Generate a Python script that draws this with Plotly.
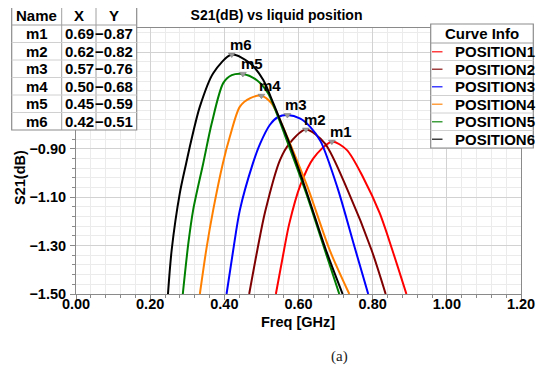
import plotly.graph_objects as go

# ---- data ----
series_names = ["POSITION1", "POSITION2", "POSITION3", "POSITION4", "POSITION5", "POSITION6"]
series_colors = ["#FF0000", "#7F0000", "#0000FF", "#FF8000", "#008000", "#000000"]

x1 = [0.539, 0.561, 0.575, 0.605, 0.640, 0.69, 0.730, 0.775, 0.819, 0.853, 0.891]
y1 = [-1.50, -1.318, -1.21, -1.05, -0.939, -0.87, -0.904, -1.02, -1.166, -1.318, -1.50]

x2 = [0.467, 0.489, 0.510, 0.550, 0.577, 0.62, 0.671, 0.735, 0.797, 0.835]
y2 = [-1.50, -1.318, -1.16, -0.946, -0.875, -0.82, -0.877, -1.08, -1.318, -1.50]

x3 = [0.406, 0.424, 0.442, 0.477, 0.496, 0.523, 0.545, 0.57, 0.605, 0.631, 0.66, 0.705, 0.752, 0.788]
y3 = [-1.50, -1.318, -1.152, -0.96, -0.88, -0.80, -0.768, -0.76, -0.775, -0.808, -0.87, -1.06, -1.31, -1.50]

x4 = [0.334, 0.352, 0.370, 0.396, 0.415, 0.442, 0.47, 0.50, 0.527, 0.550, 0.575, 0.625, 0.684, 0.737]
y4 = [-1.50, -1.31, -1.152, -0.96, -0.849, -0.725, -0.69, -0.68, -0.711, -0.78, -0.87, -1.06, -1.318, -1.50]

x5 = [0.288, 0.303, 0.316, 0.343, 0.366, 0.397, 0.42, 0.45, 0.487, 0.518, 0.541, 0.565, 0.62, 0.671, 0.710]
y5 = [-1.50, -1.29, -1.152, -0.96, -0.794, -0.628, -0.595, -0.59, -0.615, -0.67, -0.752, -0.85, -1.08, -1.318, -1.50]

x6 = [0.248, 0.258, 0.280, 0.297, 0.310, 0.334, 0.370, 0.42, 0.469, 0.505, 0.532, 0.554, 0.572, 0.62, 0.674, 0.719]
y6 = [-1.50, -1.318, -1.083, -0.96, -0.87, -0.725, -0.587, -0.51, -0.545, -0.615, -0.711, -0.794, -0.863, -1.07, -1.318, -1.50]

marker_names = ["m1", "m2", "m3", "m4", "m5", "m6"]
marker_x = [0.69, 0.62, 0.57, 0.50, 0.45, 0.42]
marker_y = [-0.87, -0.82, -0.76, -0.68, -0.59, -0.51]

x_ticks = [0.0, 0.2, 0.4, 0.6, 0.8, 1.0, 1.2]
y_ticks = [-1.5, -1.3, -1.1, -0.9, -0.7, -0.5]

series_x = [x1, x2, x3, x4, x5, x6]
series_y = [y1, y2, y3, y4, y5, y6]

# ---- layout geometry (reference-window pixels; page body adds an 8px offset) ----
OFF = 8
WIN_W, WIN_H = 550, 371
PL, PR, PT, PB = 76, 521, 28, 294          # plot area edges in window pixels
W, H = WIN_W - OFF, WIN_H - OFF
L, T = PL - OFF, PT - OFF
R, B = W - (PR - OFF), H - (PB - OFF)
PW, PH = PR - PL, PB - PT
FONT = "Liberation Sans"


def px(xp):
    return (xp - PL) / PW


def py(yp):
    return (PB - yp) / PH


fig = go.Figure()

for name, col, xs, ys in zip(series_names, series_colors, series_x, series_y):
    fig.add_trace(go.Scatter(x=xs, y=ys, mode="lines", name=name,
                             line=dict(color=col, width=2, shape="spline", smoothing=0.8),
                             showlegend=False, hoverinfo="skip"))

fig.add_trace(go.Scatter(x=marker_x, y=marker_y, mode="markers",
                         marker=dict(symbol="triangle-down", size=6, color="#9A9A9A",
                                     line=dict(color="#707070", width=0.5)),
                         showlegend=False, hoverinfo="skip"))

annotations = []
shapes = []

bold15 = dict(family=FONT, size=15, color="black", weight="bold")

# marker labels
for n, mx, my in zip(marker_names, marker_x, marker_y):
    annotations.append(dict(x=mx, y=my, xref="x", yref="y", text=n, showarrow=False,
                            xanchor="left", yanchor="bottom", xshift=-4, yshift=0, font=bold15))

# ---- marker table (top-left) ----
tl, tr, tt, tb = 11.7, 136.7, 7, 130
col_lines = [61.7, 96]
head_b = 25
row_h = (tb - head_b) / len(marker_names)
shapes.append(dict(type="rect", xref="paper", yref="paper", x0=px(tl), x1=px(tr), y0=py(tb), y1=py(tt),
                   fillcolor="white", line=dict(color="#8C8C8C", width=1.2), layer="above"))
for c in col_lines:
    shapes.append(dict(type="line", xref="paper", yref="paper", x0=px(c), x1=px(c), y0=py(tb), y1=py(tt),
                       line=dict(color="#A0A0A0", width=1), layer="above"))
for i in range(len(marker_names)):
    yl = head_b + i * row_h
    shapes.append(dict(type="line", xref="paper", yref="paper", x0=px(tl), x1=px(tr), y0=py(yl), y1=py(yl),
                       line=dict(color="#D0D0D0" if i > 0 else "#A0A0A0", width=1), layer="above"))

for txt, cx in zip(["Name", "X", "Y"], [36.7, 79, 114]):
    annotations.append(dict(x=px(cx), y=py(16), xref="paper", yref="paper", text=txt, showarrow=False,
                            xanchor="center", yanchor="middle", font=bold15))
for i, (n, mx, my) in enumerate(zip(marker_names, marker_x, marker_y)):
    cy = head_b + (i + 0.5) * row_h
    annotations.append(dict(x=px(36.7), y=py(cy), xref="paper", yref="paper", text=n, showarrow=False,
                            xanchor="center", yanchor="middle", font=bold15))
    annotations.append(dict(x=px(79), y=py(cy), xref="paper", yref="paper", text=f"{mx:.2f}", showarrow=False,
                            xanchor="center", yanchor="middle", font=bold15))
    annotations.append(dict(x=px(135), y=py(cy), xref="paper", yref="paper",
                            text=f"\u2212{abs(my):.2f}", showarrow=False,
                            xanchor="right", yanchor="middle", font=bold15))

# ---- curve info legend (top-right) ----
ll, lr, lt, lb = 430.7, 533.3, 24, 148
lhead = 43
lrow = (lb - lhead) / len(series_names)
shapes.append(dict(type="rect", xref="paper", yref="paper", x0=px(ll), x1=px(lr), y0=py(lb), y1=py(lt),
                   fillcolor="white", line=dict(color="#8C8C8C", width=1.2), layer="above"))
annotations.append(dict(x=px((ll + lr) / 2), y=py(33.5), xref="paper", yref="paper", text="Curve Info",
                        showarrow=False, xanchor="center", yanchor="middle", font=bold15))
for i, (n, col) in enumerate(zip(series_names, series_colors)):
    yl = lhead + i * lrow
    shapes.append(dict(type="line", xref="paper", yref="paper", x0=px(ll), x1=px(lr), y0=py(yl), y1=py(yl),
                       line=dict(color="#D0D0D0" if i > 0 else "#A0A0A0", width=1), layer="above"))
    cy = yl + lrow / 2
    shapes.append(dict(type="line", xref="paper", yref="paper", x0=px(432), x1=px(442.5), y0=py(cy), y1=py(cy),
                       line=dict(color=col, width=1.5), opacity=0.75, layer="above"))
    annotations.append(dict(x=px(452.5), y=py(cy), xref="paper", yref="paper", text=n, showarrow=False,
                            xanchor="left", yanchor="middle", font=bold15))

# ---- axis titles & caption ----
annotations.append(dict(x=px(298), y=py(322), xref="paper", yref="paper", text="Freq [GHz]", showarrow=False,
                        xanchor="center", yanchor="middle",
                        font=dict(family=FONT, size=14.5, color="black", weight="bold")))
annotations.append(dict(x=px(20), y=py(178), xref="paper", yref="paper", text="S21(dB)", showarrow=False,
                        xanchor="center", yanchor="middle", textangle=-90,
                        font=dict(family=FONT, size=14.5, color="black", weight="bold")))
annotations.append(dict(x=px(339), y=py(356), xref="paper", yref="paper", text="(a)", showarrow=False,
                        xanchor="center", yanchor="middle",
                        font=dict(family="Liberation Serif", size=15, color="#222222")))

axis_common = dict(showline=True, mirror=True, linecolor="#8A8A8A", linewidth=1,
                   ticks="outside", ticklen=5, tickcolor="#8A8A8A", tickwidth=1,
                   showgrid=True, gridcolor="#D2D2D2", gridwidth=1, zeroline=False,
                   tickfont=dict(family=FONT, size=14.5, color="black", weight="bold"),
                   tickformat=".2f")

fig.update_layout(
    width=W, height=H,
    margin=dict(l=L, r=R, t=T, b=B, pad=0),
    paper_bgcolor="white", plot_bgcolor="white",
    title=dict(text="S21(dB) vs liquid position", x=(276.5 - OFF) / W, y=1 - (15 - OFF) / H,
               xanchor="center", yanchor="middle",
               font=dict(family=FONT, size=14, color="black", weight="bold")),
    xaxis=dict(range=[0, 1.2], tickvals=x_ticks, ticklabelstandoff=-8, **axis_common,
               minor=dict(dtick=0.04, tick0=0, ticks="outside", ticklen=3, tickcolor="#8A8A8A",
                          showgrid=True, gridcolor="#EBEBEB", gridwidth=1)),
    yaxis=dict(range=[-1.5, -0.4], tickvals=y_ticks, ticklabelstandoff=1, **axis_common,
               minor=dict(dtick=0.04, tick0=-1.5, ticks="outside", ticklen=3, tickcolor="#8A8A8A",
                          showgrid=True, gridcolor="#EBEBEB", gridwidth=1)),
    shapes=shapes,
    annotations=annotations,
    showlegend=False,
)

fig.write_html("out.html")
